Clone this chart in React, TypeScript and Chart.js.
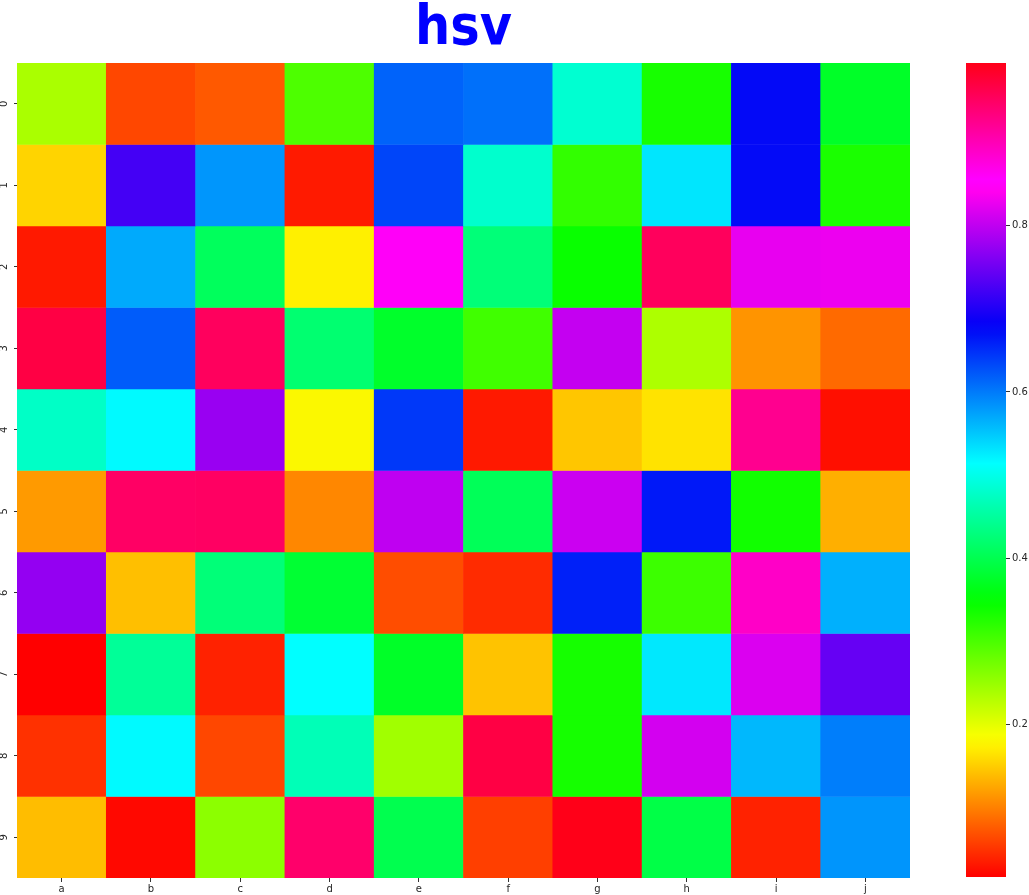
import React, { useEffect, useRef } from 'react';
import { Chart, registerables } from 'chart.js';

Chart.register(...registerables);

const columns = ['a', 'b', 'c', 'd', 'e', 'f', 'g', 'h', 'i', 'j'];
const rows = ['0', '1', '2', '3', '4', '5', '6', '7', '8', '9'];

const row0 = [0.237, 0.062, 0.074, 0.298, 0.615, 0.607, 0.484, 0.333, 0.676, 0.374];
const row1 = [0.154, 0.723, 0.582, 0.033, 0.635, 0.481, 0.315, 0.530, 0.675, 0.331];
const row2 = [0.032, 0.569, 0.408, 0.172, 0.849, 0.426, 0.343, 0.955, 0.826, 0.829];
const row3 = [0.969, 0.620, 0.954, 0.421, 0.376, 0.306, 0.803, 0.235, 0.112, 0.085];
const row4 = [0.477, 0.517, 0.776, 0.180, 0.643, 0.032, 0.145, 0.164, 0.924, 0.026];
const row5 = [0.116, 0.950, 0.951, 0.104, 0.800, 0.405, 0.808, 0.664, 0.337, 0.130];
const row6 = [0.773, 0.140, 0.426, 0.381, 0.066, 0.044, 0.659, 0.309, 0.890, 0.565];
const row7 = [0.016, 0.447, 0.038, 0.514, 0.374, 0.143, 0.334, 0.529, 0.818, 0.744];
const row8 = [0.048, 0.517, 0.062, 0.467, 0.243, 0.969, 0.334, 0.813, 0.560, 0.598];
const row9 = [0.139, 0.021, 0.257, 0.946, 0.399, 0.057, 0.996, 0.394, 0.038, 0.583];

const heatValues = [row0, row1, row2, row3, row4, row5, row6, row7, row8, row9];
const colorbarTicks = [0.2, 0.4, 0.6, 0.8];
const titleText = 'hsv';

// matplotlib "hsv" colormap segment data
const HSV_R: number[][] = [[0, 1], [0.15873, 1], [0.174603, 0.96875], [0.333333, 0.03125], [0.349206, 0], [0.666667, 0], [0.68254, 0.03125], [0.84127, 1], [1, 1]];
const HSV_G: number[][] = [[0, 0], [0.15873, 0.9375], [0.174603, 1], [0.507937, 1], [0.666667, 0.0625], [0.68254, 0], [1, 0]];
const HSV_B: number[][] = [[0, 0], [0.333333, 0], [0.349206, 0.0625], [0.507937, 1], [0.84127, 0.9375], [0.857143, 1], [1, 0.09375]];

function interp(seg: number[][], t: number): number {
  if (t <= seg[0][0]) return seg[0][1];
  for (let i = 1; i < seg.length; i++) {
    if (t <= seg[i][0]) {
      const [x0, y0] = seg[i - 1];
      const [x1, y1] = seg[i];
      return y0 + ((t - x0) / (x1 - x0)) * (y1 - y0);
    }
  }
  return seg[seg.length - 1][1];
}

function hsvColor(t: number): string {
  const c = Math.max(0, Math.min(1, t));
  const r = Math.round(interp(HSV_R, c) * 255);
  const g = Math.round(interp(HSV_G, c) * 255);
  const b = Math.round(interp(HSV_B, c) * 255);
  return `rgb(${r},${g},${b})`;
}

const flat = heatValues.flat();
const vmin = Math.min(...flat);
const vmax = Math.max(...flat);
const colorFor = (v: number) => hsvColor((v - vmin) / (vmax - vmin));

const tickFont = { family: "'DejaVu Sans', sans-serif", size: 10 };
const tickColor = '#262626';

export default function App() {
  const heatRef = useRef<HTMLCanvasElement | null>(null);
  const barRef = useRef<HTMLCanvasElement | null>(null);

  useEffect(() => {
    if (!heatRef.current || !barRef.current) return;

    const heat = new Chart(heatRef.current, {
      type: 'bar',
      data: {
        labels: columns,
        datasets: rows.map((r, i) => ({
          label: r,
          data: columns.map(() => [i, i + 1]),
          backgroundColor: heatValues[i].map(colorFor),
          borderWidth: 0,
          grouped: false,
          barPercentage: 1,
          categoryPercentage: 1,
        })),
      } as any,
      options: {
        responsive: false,
        animation: false,
        layout: { padding: { left: 0, right: 20, top: 0, bottom: 0 } },
        plugins: {
          legend: { display: false },
          tooltip: { enabled: false },
          title: {
            display: true,
            text: titleText,
            color: '#0000ff',
            fullSize: false,
            font: { family: "'DejaVu Sans Condensed', 'DejaVu Sans', sans-serif", size: 55, weight: 'bold', lineHeight: 1 },
            padding: { top: 2, bottom: 6 },
          },
        },
        scales: {
          x: {
            type: 'category',
            grid: { offset: false, drawOnChartArea: false, drawTicks: true, tickLength: 4, tickColor: '#333', tickWidth: 1 },
            border: { display: false },
            ticks: { color: tickColor, font: tickFont, padding: 1, maxRotation: 0, autoSkip: false },
            afterFit: (s: any) => { s.height = 17; },
          },
          y: {
            type: 'linear',
            reverse: true,
            min: 0,
            max: rows.length,
            afterBuildTicks: (s: any) => { s.ticks = rows.map((_, i) => ({ value: i + 0.5 })); },
            grid: { drawOnChartArea: false, drawTicks: true, tickLength: 3, tickColor: '#333', tickWidth: 1 },
            border: { display: false },
            ticks: {
              color: tickColor,
              font: tickFont,
              minRotation: 90,
              maxRotation: 90,
              crossAlign: 'center',
              padding: 6,
              autoSkip: false,
              callback: (v: any) => rows[Math.floor(Number(v))],
            },
            afterFit: (s: any) => { s.width = 17; },
          },
        },
      } as any,
    });

    const bar = new Chart(barRef.current, {
      type: 'bar',
      data: {
        labels: [''],
        datasets: [{
          label: 'colorbar',
          data: [[vmin, vmax]],
          borderWidth: 0,
          barPercentage: 1,
          categoryPercentage: 1,
          backgroundColor: (ctx: any) => {
            const area = ctx.chart.chartArea;
            if (!area) return 'transparent';
            const g = ctx.chart.ctx.createLinearGradient(0, area.bottom, 0, area.top);
            const stops = new Set<number>();
            [HSV_R, HSV_G, HSV_B].forEach((seg) => seg.forEach((p) => stops.add(p[0])));
            for (let i = 0; i <= 64; i++) stops.add(i / 64);
            Array.from(stops).sort((a, b) => a - b).forEach((s) => g.addColorStop(s, hsvColor(s)));
            return g;
          },
        }],
      } as any,
      options: {
        responsive: false,
        animation: false,
        layout: { padding: { left: 26, top: 63, right: 0, bottom: 18 } },
        plugins: { legend: { display: false }, tooltip: { enabled: false } },
        scales: {
          x: { display: false },
          y: {
            type: 'linear',
            position: 'right',
            min: vmin,
            max: vmax,
            afterBuildTicks: (s: any) => { s.ticks = colorbarTicks.map((v) => ({ value: v })); },
            grid: { drawOnChartArea: false, drawTicks: true, tickLength: 4, tickColor: '#333', tickWidth: 1 },
            border: { display: false },
            ticks: { color: tickColor, font: tickFont, padding: 2, callback: (v: any) => Number(v).toFixed(1) },
            afterFit: (s: any) => { s.width = 23; },
          },
        },
      } as any,
    });

    return () => {
      heat.destroy();
      bar.destroy();
    };
  }, []);

  return (
    <div style={{ position: 'absolute', left: 0, top: 0, width: 1029, height: 895, background: '#fff' }}>
      <canvas ref={heatRef} width={930} height={895} style={{ position: 'absolute', left: 0, top: 0 }} />
      <canvas ref={barRef} width={89} height={895} style={{ position: 'absolute', left: 940, top: 0 }} />
    </div>
  );
}
